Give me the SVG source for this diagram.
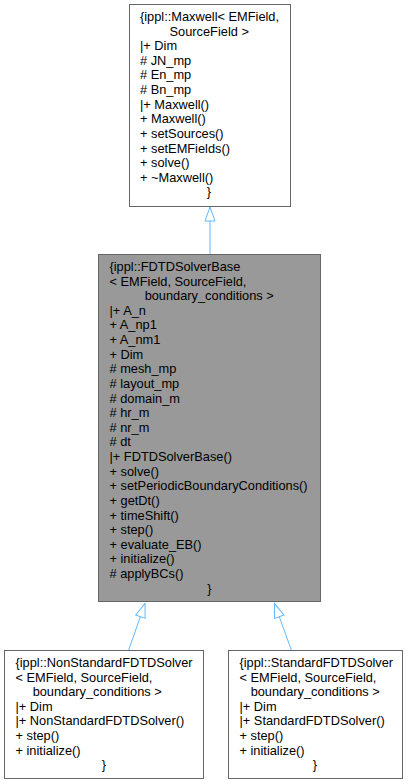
<svg xmlns="http://www.w3.org/2000/svg" width="408" height="784" viewBox="0 0 408 784">
<defs>
<style>
.box{stroke:#666666;stroke-width:1}
.white{fill:#ffffff}
.gray{fill:#999999}
text{font-family:"Liberation Sans",Arial,Helvetica,sans-serif;font-size:12.8px;fill:#000000}
.c{text-anchor:middle}
.edge{fill:none;stroke:#63b8ff;stroke-width:1;marker-end:url(#tri)}
</style>
<marker id="tri" markerUnits="userSpaceOnUse" markerWidth="16" markerHeight="12" viewBox="-1 -6 16 12" refX="14" refY="0" orient="auto">
<path d="M0,-5 L14,0 L0,5 Z" fill="#ffffff" stroke="#63b8ff" stroke-width="1"/>
</marker>
</defs>
<rect width="408" height="784" fill="#ffffff"/>
<g id="edges">
<path class="edge" d="M210,254 L210,207"/>
<path class="edge" d="M128.5,650.5 L145,603.5"/>
<path class="edge" d="M291.5,650.5 L274.5,603.5"/>
</g>
<g id="node-maxwell">
<rect class="box white" x="129.5" y="4.5" width="161" height="202"/>
<text>
<tspan x="140" y="21">{ippl::Maxwell&lt; EMField,</tspan>
<tspan class="c" x="211" y="35.62">SourceField &gt;</tspan>
<tspan x="140" y="50.24">|+ Dim</tspan>
<tspan x="140" y="64.86"># JN_mp</tspan>
<tspan x="140" y="79.48"># En_mp</tspan>
<tspan x="140" y="94.1"># Bn_mp</tspan>
<tspan x="140" y="108.72">|+ Maxwell()</tspan>
<tspan x="140" y="123.34">+ Maxwell()</tspan>
<tspan x="140" y="137.96">+ setSources()</tspan>
<tspan x="140" y="152.58">+ setEMFields()</tspan>
<tspan x="140" y="167.2">+ solve()</tspan>
<tspan x="140" y="181.82">+ ~Maxwell()</tspan>
<tspan class="c" x="209" y="196.44">}</tspan>
</text>
</g>
<g id="node-fdtdsolverbase">
<rect class="box gray" x="98.5" y="254.5" width="222" height="347"/>
<text>
<tspan x="109.5" y="271">{ippl::FDTDSolverBase</tspan>
<tspan x="109.5" y="285.62">&lt; EMField, SourceField,</tspan>
<tspan class="c" x="211" y="300.24">boundary_conditions &gt;</tspan>
<tspan x="109.5" y="314.86">|+ A_n</tspan>
<tspan x="109.5" y="329.48">+ A_np1</tspan>
<tspan x="109.5" y="344.1">+ A_nm1</tspan>
<tspan x="109.5" y="358.72">+ Dim</tspan>
<tspan x="109.5" y="373.34"># mesh_mp</tspan>
<tspan x="109.5" y="387.96"># layout_mp</tspan>
<tspan x="109.5" y="402.58"># domain_m</tspan>
<tspan x="109.5" y="417.2"># hr_m</tspan>
<tspan x="109.5" y="431.82"># nr_m</tspan>
<tspan x="109.5" y="446.44"># dt</tspan>
<tspan x="109.5" y="461.06">|+ FDTDSolverBase()</tspan>
<tspan x="109.5" y="475.68">+ solve()</tspan>
<tspan x="109.5" y="490.3">+ setPeriodicBoundaryConditions()</tspan>
<tspan x="109.5" y="504.92">+ getDt()</tspan>
<tspan x="109.5" y="519.54">+ timeShift()</tspan>
<tspan x="109.5" y="534.16">+ step()</tspan>
<tspan x="109.5" y="548.78">+ evaluate_EB()</tspan>
<tspan x="109.5" y="563.4">+ initialize()</tspan>
<tspan x="109.5" y="578.02"># applyBCs()</tspan>
<tspan class="c" x="209.5" y="592.64">}</tspan>
</text>
</g>
<g id="node-nonstandard">
<rect class="box white" x="4.5" y="650.5" width="199" height="128"/>
<text>
<tspan x="15.5" y="667">{ippl::NonStandardFDTDSolver</tspan>
<tspan x="15.5" y="681.62">&lt; EMField, SourceField,</tspan>
<tspan class="c" x="99" y="696.24">boundary_conditions &gt;</tspan>
<tspan x="15.5" y="710.86">|+ Dim</tspan>
<tspan x="15.5" y="725.48">|+ NonStandardFDTDSolver()</tspan>
<tspan x="15.5" y="740.1">+ step()</tspan>
<tspan x="15.5" y="754.72">+ initialize()</tspan>
<tspan class="c" x="104" y="769.34">}</tspan>
</text>
</g>
<g id="node-standard">
<rect class="box white" x="228.5" y="650.5" width="174" height="128"/>
<text>
<tspan x="239.5" y="667">{ippl::StandardFDTDSolver</tspan>
<tspan x="239.5" y="681.62">&lt; EMField, SourceField,</tspan>
<tspan class="c" x="317" y="696.24">boundary_conditions &gt;</tspan>
<tspan x="239.5" y="710.86">|+ Dim</tspan>
<tspan x="239.5" y="725.48">|+ StandardFDTDSolver()</tspan>
<tspan x="239.5" y="740.1">+ step()</tspan>
<tspan x="239.5" y="754.72">+ initialize()</tspan>
<tspan class="c" x="315" y="769.34">}</tspan>
</text>
</g>
</svg>
